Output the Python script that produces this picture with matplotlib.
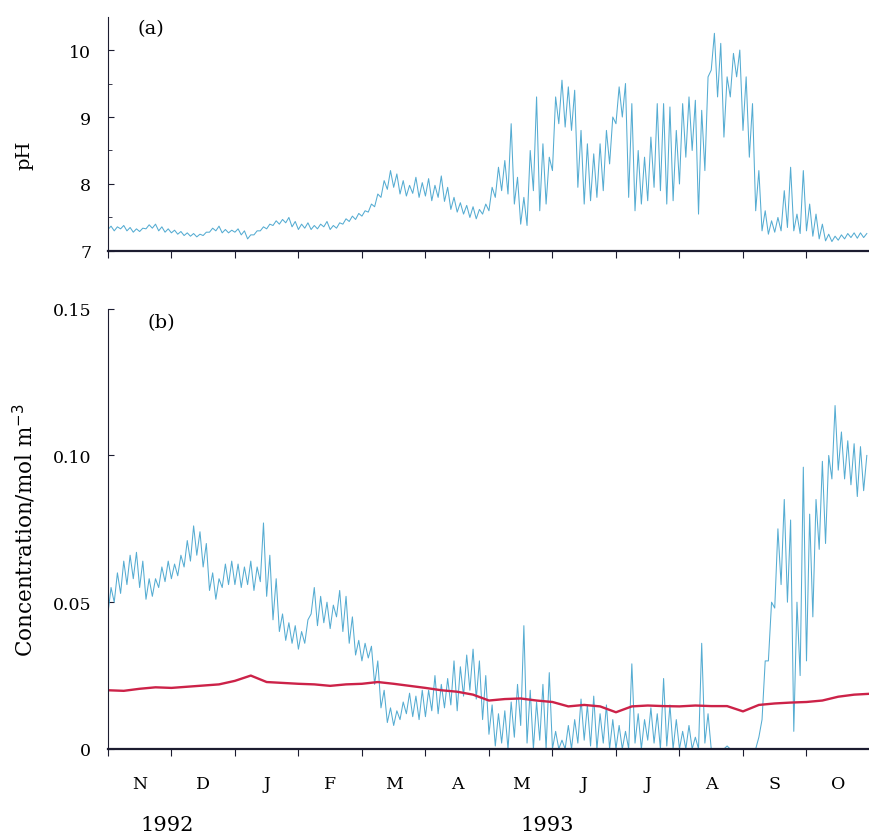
import matplotlib
matplotlib.use("Agg")
import matplotlib.pyplot as plt
import numpy as np

plt.rcParams['font.family'] = ['DejaVu Serif']

# month axis: 0 = 1 Nov 1992 ... 12 = 1 Nov 1993
months = ["N", "D", "J", "F", "M", "A", "M", "J", "J", "A", "S", "O"]
years = ["1992", "1993"]
year_pos = [0.93, 6.92]

# pH, low / high readings every 0.1 month (one row per month)
ph_low = [
	7.32, 7.30, 7.33, 7.30, 7.28, 7.29, 7.33, 7.34, 7.30, 7.28,
	7.27, 7.25, 7.23, 7.22, 7.21, 7.23, 7.28, 7.30, 7.27, 7.27,
	7.28, 7.24, 7.18, 7.24, 7.30, 7.33, 7.38, 7.40, 7.42, 7.36,
	7.32, 7.34, 7.32, 7.33, 7.36, 7.32, 7.34, 7.40, 7.44, 7.47,
	7.52, 7.58, 7.66, 7.80, 7.92, 7.95, 7.85, 7.82, 7.86, 7.80,
	7.82, 7.75, 7.80, 7.74, 7.62, 7.58, 7.55, 7.50, 7.48, 7.55,
	7.60, 7.80, 7.90, 7.85, 7.70, 7.40, 7.38, 7.90, 7.60, 7.70,
	8.20, 8.90, 8.85, 8.80, 7.95, 7.70, 7.75, 7.80, 7.90, 8.30,
	8.90, 9.00, 7.80, 7.60, 7.70, 7.75, 7.95, 7.90, 7.70, 7.75,
	8.00, 8.40, 8.50, 7.55, 8.20, 9.70, 9.30, 8.70, 9.30, 9.60,
	8.80, 8.40, 7.60, 7.30, 7.25, 7.28, 7.30, 7.35, 7.30, 7.26,
	7.30, 7.22, 7.18, 7.15, 7.14, 7.16, 7.18, 7.20, 7.19, 7.20,
]
ph_high = [
	7.37, 7.36, 7.38, 7.35, 7.33, 7.34, 7.39, 7.40, 7.36, 7.33,
	7.31, 7.29, 7.27, 7.26, 7.25, 7.28, 7.34, 7.37, 7.32, 7.31,
	7.33, 7.30, 7.24, 7.30, 7.36, 7.40, 7.45, 7.47, 7.50, 7.44,
	7.40, 7.42, 7.38, 7.40, 7.44, 7.38, 7.42, 7.48, 7.52, 7.56,
	7.60, 7.70, 7.85, 8.05, 8.20, 8.15, 8.05, 7.98, 8.10, 8.02,
	8.08, 7.98, 8.12, 7.95, 7.80, 7.72, 7.68, 7.66, 7.62, 7.70,
	7.95, 8.25, 8.35, 8.90, 8.10, 7.80, 8.50, 9.30, 8.60, 8.40,
	9.30, 9.55, 9.45, 9.40, 8.80, 8.60, 8.45, 8.60, 8.80, 9.00,
	9.45, 9.50, 9.20, 8.50, 8.40, 8.70, 9.20, 9.20, 9.15, 8.80,
	9.20, 9.30, 9.25, 9.10, 9.60, 10.25, 10.10, 9.60, 9.95, 10.00,
	9.60, 9.20, 8.20, 7.60, 7.45, 7.50, 7.90, 8.25, 7.55, 8.20,
	7.70, 7.55, 7.40, 7.25, 7.22, 7.24, 7.26, 7.27, 7.27, 7.26,
]

# concentration (mol m-3), low / high every 0.1 month
conc_low = [
	0.046, 0.050, 0.053, 0.056, 0.058, 0.055, 0.051, 0.052, 0.055, 0.057,
	0.058, 0.059, 0.062, 0.064, 0.066, 0.062, 0.054, 0.051, 0.055, 0.056,
	0.056, 0.055, 0.056, 0.054, 0.057, 0.052, 0.044, 0.040, 0.037, 0.036,
	0.034, 0.036, 0.046, 0.042, 0.043, 0.041, 0.045, 0.040, 0.036, 0.032,
	0.030, 0.031, 0.022, 0.014, 0.009, 0.008, 0.010, 0.012, 0.011, 0.010,
	0.011, 0.013, 0.012, 0.014, 0.015, 0.013, 0.018, 0.020, 0.017, 0.010,
	0.005, 0.001, 0.002, 0.000, 0.004, 0.008, 0.002, 0.000, 0.003, 0.000,
	0.000, 0.000, 0.000, 0.000, 0.002, 0.003, 0.001, 0.000, 0.002, 0.000,
	0.000, 0.000, 0.000, 0.002, 0.000, 0.003, 0.002, 0.000, 0.001, 0.000,
	0.000, 0.000, 0.000, 0.000, 0.002, 0.000, 0.000, 0.000, 0.000, 0.000,
	0.000, 0.000, 0.000, 0.010, 0.030, 0.048, 0.056, 0.050, 0.006, 0.025,
	0.030, 0.045, 0.068, 0.070, 0.092, 0.095, 0.092, 0.090, 0.086, 0.088,
]
conc_high = [
	0.055, 0.060, 0.064, 0.066, 0.067, 0.064, 0.058, 0.058, 0.062, 0.064,
	0.063, 0.066, 0.071, 0.076, 0.074, 0.070, 0.060, 0.058, 0.063, 0.064,
	0.063, 0.062, 0.064, 0.062, 0.077, 0.066, 0.058, 0.046, 0.043, 0.042,
	0.040, 0.044, 0.055, 0.052, 0.050, 0.049, 0.054, 0.052, 0.045, 0.037,
	0.036, 0.035, 0.030, 0.020, 0.014, 0.013, 0.016, 0.019, 0.018, 0.020,
	0.020, 0.025, 0.022, 0.024, 0.030, 0.028, 0.032, 0.034, 0.030, 0.025,
	0.015, 0.012, 0.013, 0.016, 0.022, 0.042, 0.020, 0.016, 0.022, 0.026,
	0.006, 0.003, 0.008, 0.010, 0.017, 0.015, 0.018, 0.012, 0.015, 0.010,
	0.008, 0.006, 0.029, 0.012, 0.010, 0.014, 0.012, 0.024, 0.015, 0.010,
	0.006, 0.008, 0.004, 0.036, 0.012, 0.000, 0.000, 0.001, 0.000, 0.000,
	0.000, 0.000, 0.004, 0.030, 0.050, 0.075, 0.085, 0.078, 0.050, 0.096,
	0.080, 0.085, 0.098, 0.100, 0.117, 0.108, 0.105, 0.104, 0.103, 0.100,
]

# red (smooth) series every 0.25 month
conc_red = [
	0.0200, 0.0198, 0.0205, 0.0210, 0.0208, 0.0212, 0.0216, 0.0220,
	0.0232, 0.0250, 0.0228, 0.0225, 0.0222, 0.0220, 0.0215, 0.0220,
	0.0222, 0.0228, 0.0222, 0.0215, 0.0208, 0.0200, 0.0195, 0.0185,
	0.0165, 0.0170, 0.0172, 0.0165, 0.0160, 0.0145, 0.0150, 0.0145,
	0.0125, 0.0145, 0.0148, 0.0146, 0.0145, 0.0148, 0.0146, 0.0146,
	0.0128, 0.0150, 0.0155, 0.0158, 0.0160, 0.0165, 0.0178, 0.0185,
	0.0188,
]


def zigzag(lo, hi):
	# put low and high readings one after the other -> dense vertical strokes
	x = np.arange(len(lo) * 2) * 0.05
	y = np.empty(len(lo) * 2)
	y[0::2] = lo
	y[1::2] = hi
	return x, y


cyan = '#55acd2'
red = '#cc2248'
axcol = '#1c1c30'

fig = plt.figure(figsize=(8.7, 8.37), dpi=100)
ax1 = fig.add_axes([0.124, 0.699, 0.876, 0.280])
ax2 = fig.add_axes([0.124, 0.104, 0.876, 0.526])

for ax in (ax1, ax2):
	ax.spines['top'].set_visible(False)
	ax.spines['right'].set_visible(False)
	ax.spines['left'].set_color(axcol)
	ax.spines['bottom'].set_color(axcol)
	ax.spines['bottom'].set_linewidth(1.6)
	ax.set_xlim(0, 12)
	ax.set_xticks(np.arange(13))
	ax.tick_params(axis='x', direction='out', length=5, color=axcol, labelbottom=False)
	ax.tick_params(axis='y', direction='in', length=4, color=axcol, labelsize=12.5, pad=12)

# (a) pH
x, y = zigzag(ph_low, ph_high)
ax1.plot(x, y, color=cyan, lw=0.75)
ax1.set_ylim(7, 10.5)
ax1.set_yticks([7, 8, 9, 10])
ax1.set_yticks([7.5, 8.5, 9.5], minor=True)
ax1.tick_params(axis='y', which='minor', direction='in', length=3, color=axcol)
ax1.text(0.46, 10.33, '(a)', fontsize=14, va='center')
fig.text(24 / 870, 1 - 155 / 837, 'pH', rotation=90, fontsize=14,
	ha='center', va='center')

# (b) concentration
x, y = zigzag(conc_low, conc_high)
ax2.plot(x, y, color=cyan, lw=0.75)
xr = np.arange(len(conc_red)) * 0.25
ax2.plot(xr, conc_red, color=red, lw=1.7)
ax2.set_ylim(0, 0.15)
ax2.set_yticks([0, 0.05, 0.10, 0.15])
ax2.set_yticklabels(['0', '0.05', '0.10', '0.15'])
ax2.text(0.62, 0.1456, '(b)', fontsize=14, va='center')
fig.text(24 / 870, 1 - 530 / 837, 'Concentration/mol m$^{-3}$', rotation=90,
	fontsize=15.5, ha='center', va='center')

# month and year labels under the lower panel
for i, m in enumerate(months):
	ax2.text(i + 0.5, -0.0119, m, fontsize=12.5, ha='center', va='center')
for p, yr in zip(year_pos, years):
	ax2.text(p, -0.0259, yr, fontsize=15, ha='center', va='center')

fig.savefig('out.png', dpi=100)
